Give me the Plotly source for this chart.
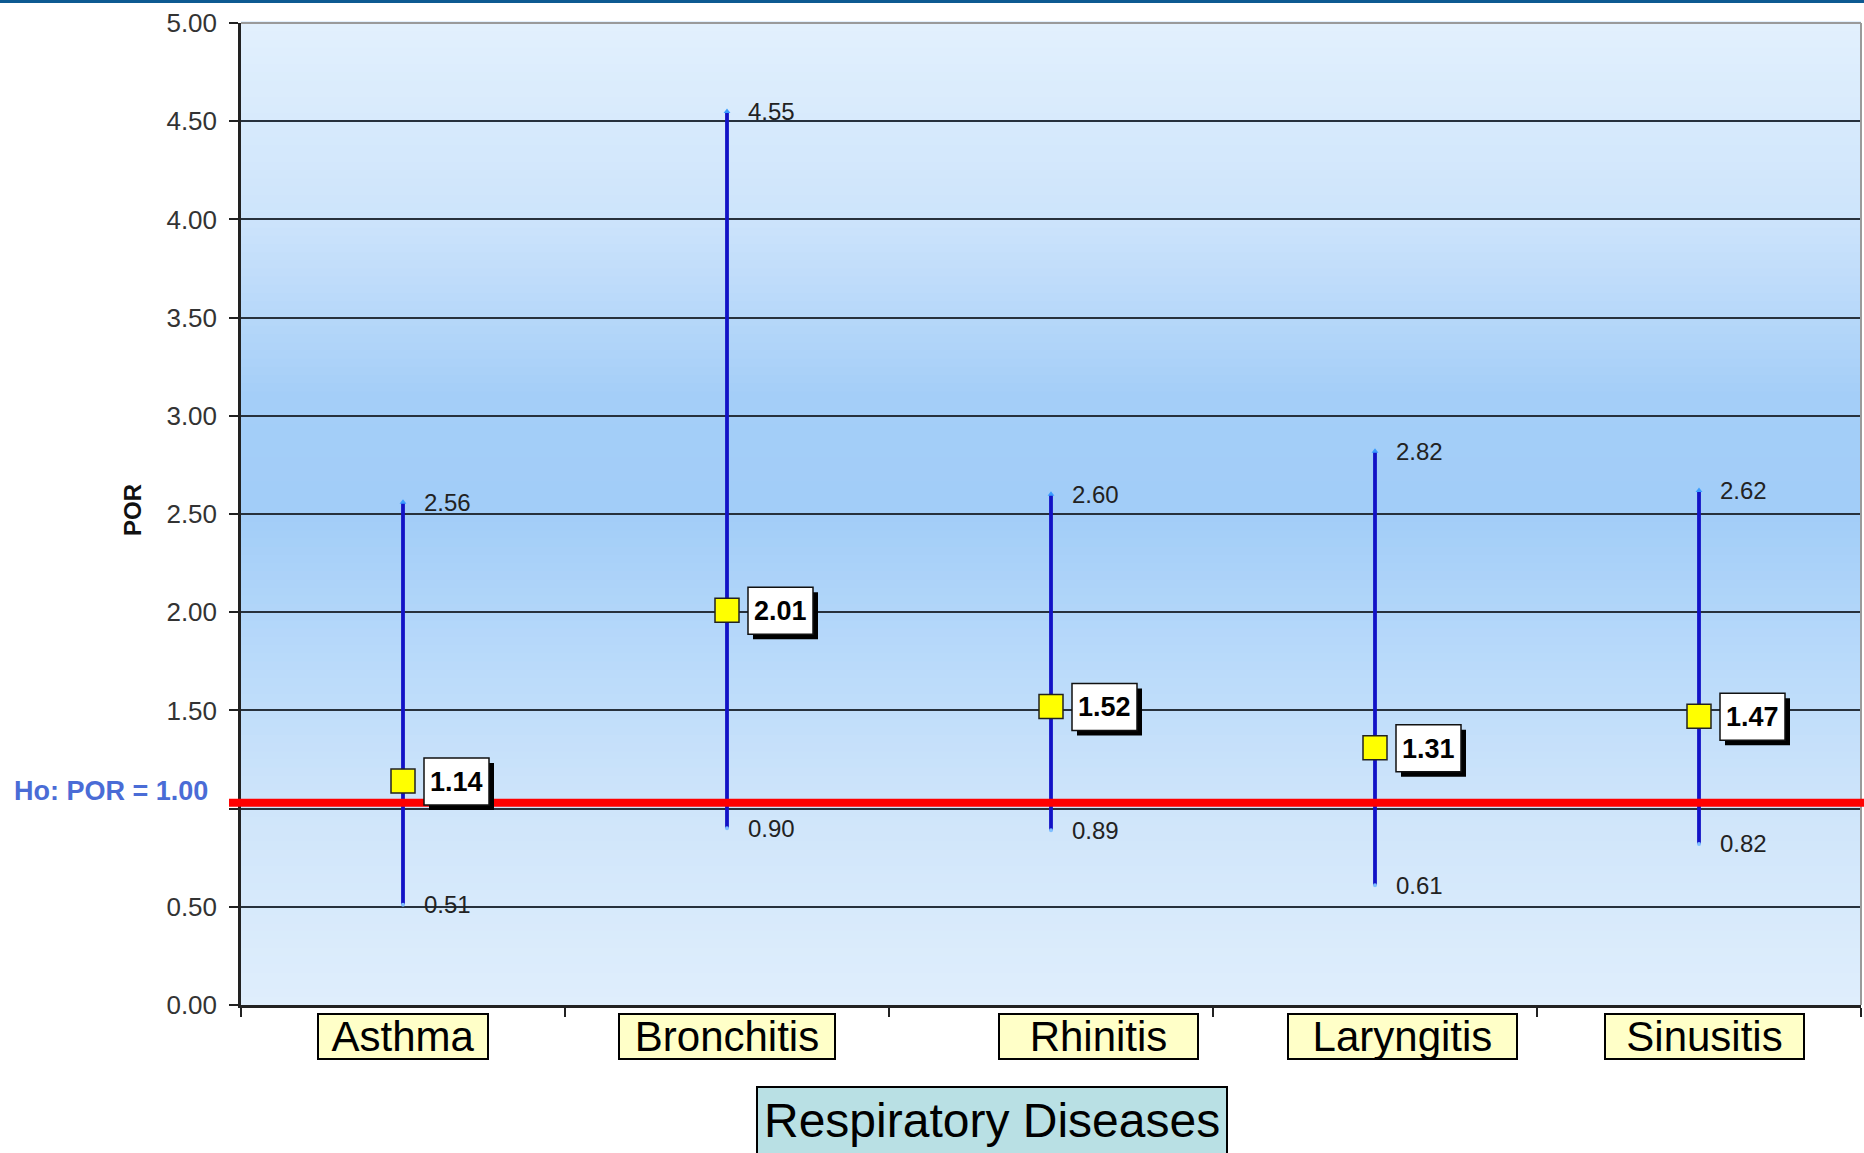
import plotly.graph_objects as go

# ---------------- data ----------------
categories = ["Asthma", "Bronchitis", "Rhinitis", "Laryngitis", "Sinusitis"]
por = [1.14, 2.01, 1.52, 1.31, 1.47]
ci_lower = [0.51, 0.90, 0.89, 0.61, 0.82]
ci_upper = [2.56, 4.55, 2.60, 2.82, 2.62]
y_tick_values = [0.0, 0.5, 1.0, 1.5, 2.0, 2.5, 3.0, 3.5, 4.0, 4.5, 5.0]
null_value = 1.00
null_label = "Ho: POR = 1.00"
x_title = "Respiratory Diseases"
y_title = "POR"

# ---------------- style ----------------
W, H = 1864, 1153
ML, MR, MT, MB = 241, 3, 23, 148
label_xshift = [0, 0, 47, 27, 5]            # category-label box offsets (px)
label_width = [168, 214, 197, 227, 197]     # category-label box widths (px)
FONT = "Liberation Sans, Arial, sans-serif"
BAR_COLOR = "#1212c6"
GRID = "#27313c"

fig = go.Figure()

fig.add_trace(go.Scatter(
    x=categories, y=por, mode="markers",
    marker=dict(symbol="square", size=24, color="#ffff00",
                line=dict(color="#222222", width=1.5)),
    error_y=dict(type="data", symmetric=False,
                 array=[u - p for u, p in zip(ci_upper, por)],
                 arrayminus=[p - l for p, l in zip(por, ci_lower)],
                 color=BAR_COLOR, thickness=3.8, width=0),
    showlegend=False, hoverinfo="skip"))
fig.add_trace(go.Scatter(x=categories, y=ci_upper, mode="markers",
                         marker=dict(symbol="triangle-up", size=6, color="#3a9cff"),
                         showlegend=False, hoverinfo="skip"))
fig.add_trace(go.Scatter(x=categories, y=ci_lower, mode="markers",
                         marker=dict(symbol="circle", size=4, color="#7fbfff"),
                         showlegend=False, hoverinfo="skip"))

shapes = []
stops = [(0.0, (0xdf, 0xee, 0xfc)), (0.2, (0xcf, 0xe5, 0xfa)), (0.35, (0xb9, 0xda, 0xfa)),
         (0.5, (0xa2, 0xcd, 0xf8)), (0.62, (0xa4, 0xce, 0xf8)), (0.8, (0xcd, 0xe4, 0xfb)),
         (1.0, (0xe2, 0xf0, 0xfd))]


def col_at(t):
    for (t0, c0), (t1, c1) in zip(stops[:-1], stops[1:]):
        if t0 <= t <= t1:
            f = (t - t0) / (t1 - t0)
            return "rgb(%d,%d,%d)" % tuple(round(a + (b - a) * f) for a, b in zip(c0, c1))
    return "rgb(%d,%d,%d)" % stops[-1][1]


N = 120
for k in range(N):
    t0, t1 = k / N, (k + 1) / N
    shapes.append(dict(type="rect", xref="x domain", yref="y domain",
                       x0=0, x1=1, y0=t0, y1=t1 + 0.002, layer="below",
                       line=dict(width=0), fillcolor=col_at((t0 + t1) / 2)))
shapes.append(dict(type="line", xref="x domain", yref="y domain", x0=0, x1=1, y0=1, y1=1,
                   line=dict(color="#9a9a9a", width=2)))
shapes.append(dict(type="line", xref="x domain", yref="y domain", x0=1, x1=1, y0=0, y1=1,
                   line=dict(color="#9a9a9a", width=2)))
# null hypothesis line (drawn slightly above the 1.00 gridline, as in the original)
shapes.append(dict(type="line", xref="paper", yref="y", x0=-0.0074, x1=1.01,
                   y0=null_value + 0.03, y1=null_value + 0.03,
                   line=dict(color="#ff0000", width=8)))
# top page rule
shapes.append(dict(type="rect", xref="paper", yref="paper", x0=-0.2, x1=1.01,
                   y0=1 + (MT - 3) / (H - MT - MB), y1=1.1,
                   line=dict(width=0), fillcolor="#0d5a92"))

ann = []
for i, c in enumerate(categories):
    for v in (ci_upper[i], ci_lower[i]):
        ann.append(dict(x=i, y=v, xref="x", yref="y", text="%.2f" % v,
                        showarrow=False, xanchor="left", yanchor="middle", xshift=19,
                        font=dict(family=FONT, size=24, color="#222222")))
    shapes.append(dict(type="rect", xref="x", yref="y", xsizemode="pixel", ysizemode="pixel",
                       xanchor=i, yanchor=por[i], x0=26, x1=91, y0=-29, y1=18,
                       line=dict(width=0), fillcolor="#000000", layer="above"))
    shapes.append(dict(type="rect", xref="x", yref="y", xsizemode="pixel", ysizemode="pixel",
                       xanchor=i, yanchor=por[i], x0=21, x1=86, y0=-24, y1=23,
                       line=dict(width=1.5, color="#111111"), fillcolor="#ffffff", layer="above"))
    ann.append(dict(x=i, y=por[i], xref="x", yref="y", text="<b>%.2f</b>" % por[i],
                    showarrow=False, xanchor="center", yanchor="middle", xshift=53.5, yshift=-1,
                    font=dict(family=FONT, size=27, color="#000000")))
    ann.append(dict(x=i, y=0, xref="x", yref="paper", text=c, showarrow=False,
                    xanchor="center", yanchor="top", xshift=label_xshift[i], yshift=-8,
                    width=label_width[i], height=43, align="center", valign="middle",
                    bgcolor="#ffffc8", bordercolor="#000000", borderwidth=2, borderpad=0,
                    font=dict(family=FONT, size=42, color="#000000")))

ann.append(dict(x=0.4636, y=-0.118, xref="paper", yref="paper", text=x_title,
                showarrow=False, xanchor="center", yanchor="middle",
                bgcolor="#b9e0e4", bordercolor="#000000", borderwidth=2, borderpad=6,
                font=dict(family=FONT, size=48, color="#000000")))
ann.append(dict(x=-0.0673, y=2.52, xref="paper", yref="y", text="<b>%s</b>" % y_title,
                showarrow=False, textangle=-90, xanchor="center", yanchor="middle",
                font=dict(family=FONT, size=24, color="#111111")))
ann.append(dict(x=-0.1414, y=1.088, xref="paper", yref="y", text="<b>%s</b>" % null_label,
                showarrow=False, xanchor="left", yanchor="middle",
                font=dict(family=FONT, size=27, color="#4a6cd6")))

fig.update_layout(
    width=W, height=H,
    margin=dict(l=ML, r=MR, t=MT, b=MB, pad=0),
    paper_bgcolor="#ffffff", plot_bgcolor="#d8eafc",
    shapes=shapes, annotations=ann, showlegend=False,
    xaxis=dict(type="category", range=[-0.5, 4.5], showticklabels=False,
               tickson="boundaries", ticks="outside", ticklen=9, tickwidth=2, tickcolor="#222",
               showline=True, linecolor="#222222", linewidth=2.5, showgrid=False, zeroline=False),
    yaxis=dict(range=[0, 5], tickvals=y_tick_values,
               ticktext=["" if v == null_value else "%.2f" % v for v in y_tick_values],
               ticks="outside", ticklen=9, tickwidth=2, tickcolor="#222",
               ticklabelstandoff=7,
               showline=True, linecolor="#222222", linewidth=2.5,
               showgrid=True, gridcolor=GRID, gridwidth=2, zeroline=False,
               tickfont=dict(family=FONT, size=26, color="#333333")),
)

fig.write_html("out.html", config={"displayModeBar": False},
               post_script="document.body.style.margin='0';")
